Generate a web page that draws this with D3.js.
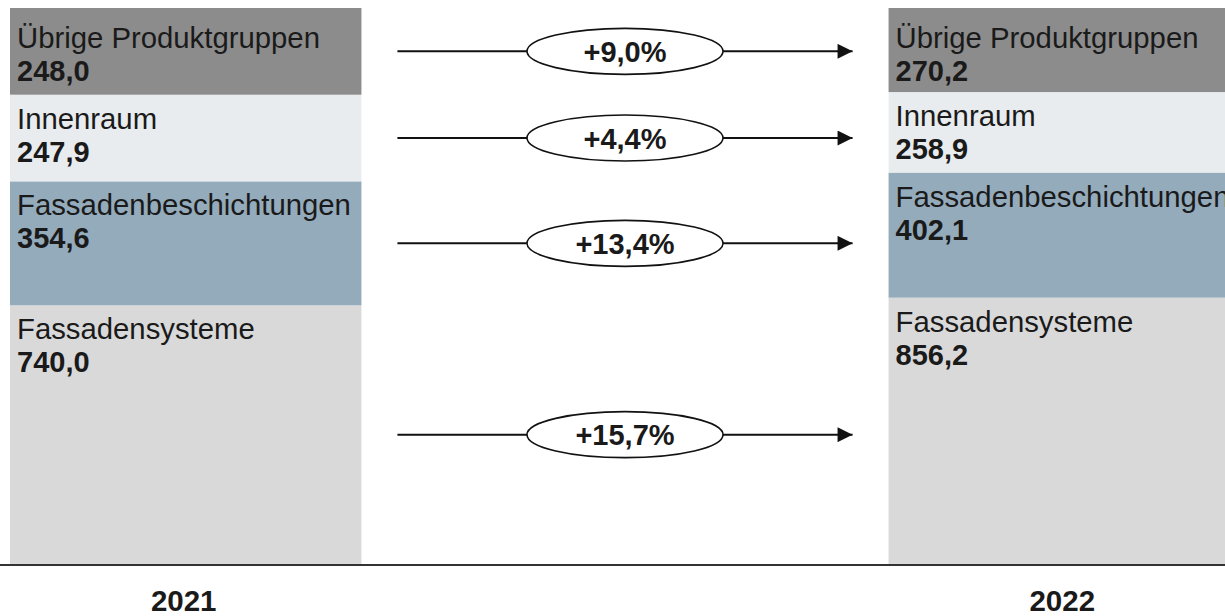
<!DOCTYPE html>
<html>
<head>
<meta charset="utf-8">
<script src="https://cdn.jsdelivr.net/npm/d3@7"></script>
<style>
  body { margin: 0; background: #fff; }
  svg { display: block; font-family: "Liberation Sans", Arial, sans-serif; }
</style>
</head>
<body>
<svg id="chart" width="1225" height="616"></svg>
<script>
// data, bottom segment first
const years = ["2021", "2022"];
const groups = ["Fassadensysteme", "Fassadenbeschichtungen", "Innenraum", "Übrige Produktgruppen"];
const values2021 = [740.0, 354.6, 247.9, 248.0];
const values2022 = [856.2, 402.1, 258.9, 270.2];
const growth = [15.7, 13.4, 4.4, 9.0];
const colors = ["#d9d9d9", "#94abbc", "#e8ecef", "#8c8c8c"];

const width = 1225, height = 616;
const topY = 8, baseY = 564;

const svg = d3.select("#chart");

const fmt = v => d3.format(".1f")(v).replace(".", ",");

// one row per year, stacked to 100%
const rows = years.map((yr, i) => {
    const vals = i === 0 ? values2021 : values2022;
    const r = { year: yr };
    groups.forEach((g, j) => r[g] = vals[j]);
    return r;
});
const series = d3.stack().keys(groups).offset(d3.stackOffsetExpand)(rows);

const x = d3.scaleBand().domain(years).range([10, 1240]).paddingInner(0.6).paddingOuter(0);
const y = d3.scaleLinear().domain([0, 1]).range([baseY, topY]);

const layer = svg.selectAll("g.layer")
    .data(series)
    .join("g")
    .attr("class", "layer")
    .attr("fill", (d, i) => colors[i]);

layer.selectAll("rect")
    .data(d => d)
    .join("rect")
    .attr("x", d => x(d.data.year))
    .attr("width", x.bandwidth())
    .attr("y", d => y(d[1]))
    .attr("height", d => y(d[0]) - y(d[1]));

// labels inside segments
series.forEach((s, i) => {
    const off = i === groups.length - 1 ? 40 : 34;
    s.forEach(d => {
        const x0 = x(d.data.year) + 7;
        const y0 = y(d[1]);
        svg.append("text")
            .attr("x", x0).attr("y", y0 + off)
            .attr("font-size", 29.3).attr("fill", "#1a1a1a")
            .text(s.key);
        svg.append("text")
            .attr("x", x0).attr("y", y0 + off + 33)
            .attr("font-size", 29).attr("font-weight", "bold").attr("fill", "#1a1a1a")
            .text(fmt(d.data[s.key]));
    });
});

// baseline
svg.append("line")
    .attr("x1", 0).attr("x2", width)
    .attr("y1", baseY + 1).attr("y2", baseY + 1)
    .attr("stroke", "#333").attr("stroke-width", 2);

// year labels
svg.selectAll("text.year")
    .data(years)
    .join("text")
    .attr("class", "year")
    .attr("x", d => x(d) + x.bandwidth() / 2 - 2)
    .attr("y", 611)
    .attr("text-anchor", "middle")
    .attr("font-size", 29.5).attr("font-weight", "bold").attr("fill", "#1a1a1a")
    .text(d => d);

// growth arrows
svg.append("defs").append("marker")
    .attr("id", "arrow")
    .attr("viewBox", "0 0 10 10")
    .attr("refX", 10).attr("refY", 5)
    .attr("markerWidth", 17).attr("markerHeight", 15)
    .attr("markerUnits", "userSpaceOnUse")
    .attr("orient", "auto")
    .append("path")
    .attr("d", "M0,0 L10,5 L0,10 Z")
    .attr("fill", "#111");

const leftEnd = x(years[0]) + x.bandwidth();
const rightStart = x(years[1]);
const cx = (leftEnd + rightStart) / 2;
const rx = 98, ry = 23;

series.forEach((s, i) => {
    const d = s[0];
    const cy = (y(d[0]) + y(d[1])) / 2;
    const g = svg.append("g");
    g.append("line")
        .attr("x1", leftEnd + 36).attr("x2", cx - rx)
        .attr("y1", cy).attr("y2", cy)
        .attr("stroke", "#111").attr("stroke-width", 2);
    g.append("line")
        .attr("x1", cx + rx).attr("x2", rightStart - 36)
        .attr("y1", cy).attr("y2", cy)
        .attr("stroke", "#111").attr("stroke-width", 2)
        .attr("marker-end", "url(#arrow)");
    g.append("ellipse")
        .attr("cx", cx).attr("cy", cy).attr("rx", rx).attr("ry", ry)
        .attr("fill", "#fff").attr("stroke", "#111").attr("stroke-width", 1.6);
    g.append("text")
        .attr("x", cx).attr("y", cy + 10.5)
        .attr("text-anchor", "middle")
        .attr("font-size", 29).attr("font-weight", "bold").attr("fill", "#1a1a1a")
        .text("+" + fmt(growth[i]) + "%");
});
</script>
</body>
</html>
